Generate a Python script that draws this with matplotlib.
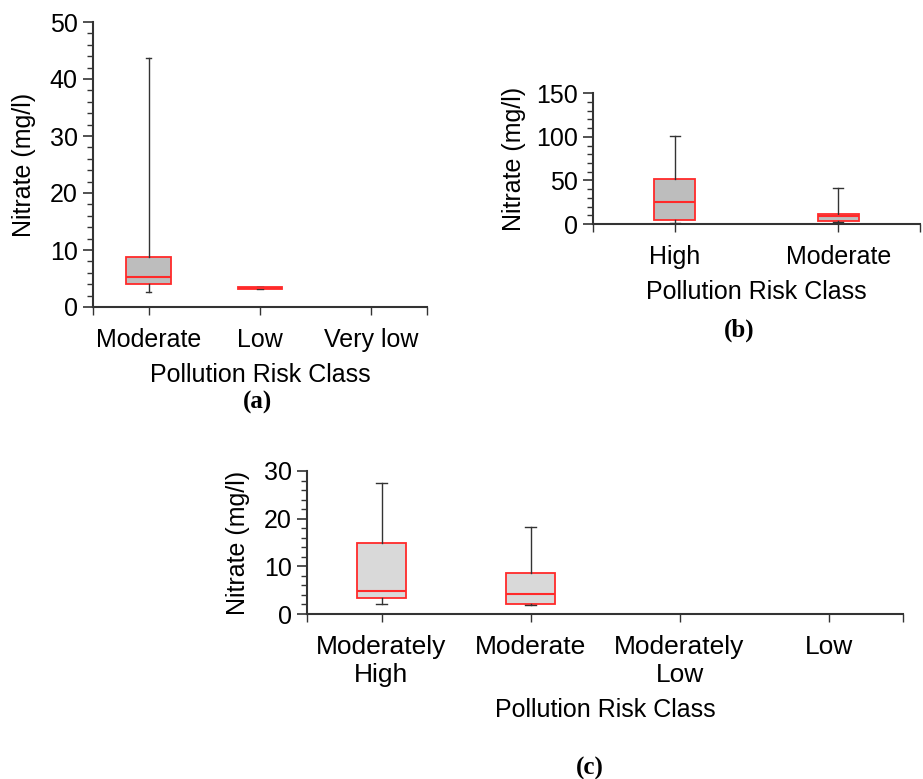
import matplotlib.pyplot as plt
from matplotlib.ticker import MultipleLocator, FixedLocator

# (a)
a_classes = ['Moderate', 'Low', 'Very low']
a_whislo = [2.7, 3.1, None]
a_q1 = [4.0, 3.1, None]
a_med = [5.3, 3.3, None]
a_q3 = [8.8, 3.45, None]
a_whishi = [43.6, 3.5, None]

# (b)
b_classes = ['High', 'Moderate']
b_whislo = [1.0, 2.5]
b_q1 = [4.6, 3.8]
b_med = [25.3, 9.0]
b_q3 = [51.7, 11.1]
b_whishi = [100.5, 41.3]

# (c)
c_classes = ['Moderately\nHigh', 'Moderate', 'Moderately\nLow', 'Low']
c_whislo = [2.0, 1.9, None, None]
c_q1 = [3.3, 2.2, None, None]
c_med = [4.9, 4.1, None, None]
c_q3 = [14.8, 8.7, None, None]
c_whishi = [27.4, 18.3, None, None]

plt.rcParams['font.family'] = ['Liberation Sans', 'DejaVu Sans']
axcol = '#333333'


def draw(ax, classes, wlo, q1, med, q3, whi, ymax, major, minor, width, cap, fill, fs):
    stats = []
    pos = []
    for i in range(len(classes)):
        if med[i] is None:
            continue
        stats.append(dict(whislo=wlo[i], q1=q1[i], med=med[i], q3=q3[i], whishi=whi[i], fliers=[]))
        pos.append(i)
    ax.bxp(stats, positions=pos, widths=width, capwidths=cap, patch_artist=True,
           showfliers=False,
           boxprops=dict(facecolor=fill, edgecolor='#ff2a2a', linewidth=1.3),
           medianprops=dict(color='#ff2a2a', linewidth=1.5),
           whiskerprops=dict(color=axcol, linewidth=1.0),
           capprops=dict(color=axcol, linewidth=1.0))
    n = len(classes)
    ax.set_xlim(-0.5, n - 0.5)
    ax.set_ylim(0, ymax)
    ax.set_xticks(range(n))
    ax.set_xticklabels(classes, fontsize=fs)
    ax.xaxis.set_minor_locator(FixedLocator([-0.5, n - 0.5]))
    ax.yaxis.set_major_locator(MultipleLocator(major))
    ax.yaxis.set_minor_locator(MultipleLocator(minor))
    ax.tick_params(axis='y', which='major', length=7, width=1.2, color=axcol, labelsize=fs, pad=4)
    ax.tick_params(axis='y', which='minor', length=4, width=1.0, color=axcol)
    ax.tick_params(axis='x', which='both', length=6, width=1.0, color=axcol, pad=9)
    for s in ['top', 'right']:
        ax.spines[s].set_visible(False)
    for s in ['left', 'bottom']:
        ax.spines[s].set_color(axcol)
        ax.spines[s].set_linewidth(1.5)
    ax.set_ylabel('Nitrate (mg/l)', fontsize=fs)
    ax.set_xlabel('Pollution Risk Class', fontsize=fs, labelpad=8)


fig = plt.figure(figsize=(9.23, 7.79), dpi=100)

ax_a = fig.add_axes([93 / 923, 1 - 307 / 779, 334 / 923, 285 / 779])
draw(ax_a, a_classes, a_whislo, a_q1, a_med, a_q3, a_whishi, 50, 10, 2, 0.4, 0.05, '#bdbdbd', 18)
ax_a.yaxis.labelpad = 10

ax_b = fig.add_axes([593 / 923, 1 - 224 / 779, 327 / 923, 130.7 / 779])
draw(ax_b, b_classes, b_whislo, b_q1, b_med, b_q3, b_whishi, 150, 50, 10, 0.25, 0.06, '#bdbdbd', 18)
ax_b.yaxis.labelpad = 7

ax_c = fig.add_axes([307 / 923, 1 - 614 / 779, 596 / 923, 143 / 779])
draw(ax_c, c_classes, c_whislo, c_q1, c_med, c_q3, c_whishi, 30, 10, 2, 0.335, 0.074, '#d9d9d9', 18)
ax_c.tick_params(axis='x', labelsize=19)
ax_c.yaxis.labelpad = 10

cap_font = dict(family='Liberation Serif', fontweight='bold', fontsize=18, ha='center', va='center')
fig.text(258 / 923, 1 - 402 / 779, '(a)', **cap_font)
fig.text(739 / 923, 1 - 330 / 779, '(b)', **cap_font)
fig.text(590 / 923, 1 - 768 / 779, '(c)', **cap_font)

fig.savefig('out.png', dpi=100)
